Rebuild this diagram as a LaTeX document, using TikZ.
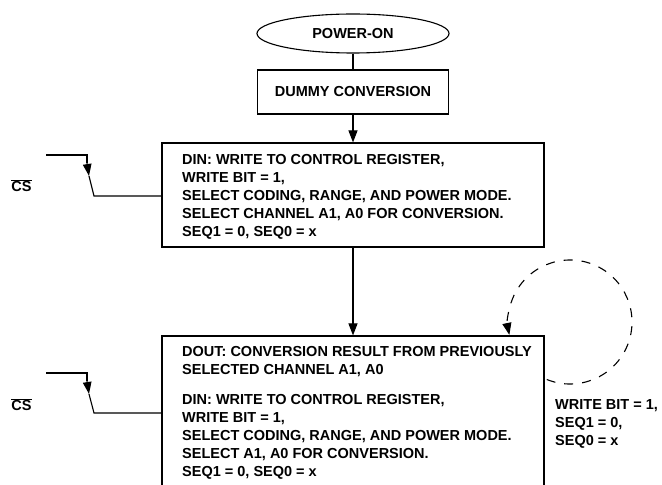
\documentclass[tikz,border=0pt]{standalone}
\usepackage{fontspec}
\setmainfont{Liberation Sans}
\usetikzlibrary{shapes.geometric,arrows.meta}
\begin{document}
\begin{tikzpicture}[x=1pt,y=1pt,
  every node/.style={font=\bfseries\fontsize{14.5}{18}\selectfont},
  ln/.style={line width=1.1pt},
  box/.style={draw, line width=1.1pt, inner sep=0pt},
  txt/.style={align=left, inner sep=0pt, anchor=north west},
  arr/.style={-{Triangle[length=12pt,width=9pt]}},
  csarr/.style={-{Triangle[length=12pt,width=8.5pt]}},
  dsh/.style={dash pattern=on 9pt off 9pt},
]
\useasboundingbox (0,0) rectangle (662,485);
\node[box, ellipse, minimum width=192, minimum height=39] (pwr) at (353,451.5) {POWER-ON};
\node[box, minimum width=191, minimum height=44] (dummy) at (353,393) {DUMMY CONVERSION};
\node[box, minimum width=382, minimum height=104] (b1) at (353,290) {};
\node[box, minimum width=382, minimum height=180] (b2) at (353,59) {};
\node[txt] (t1) at (182,331.2) {DIN: WRITE TO CONTROL REGISTER,\\ WRITE BIT = 1,\\ SELECT CODING, RANGE, AND POWER MODE.\\ SELECT CHANNEL A1, A0 FOR CONVERSION.\\ SEQ1 = 0, SEQ0 = x};
\node[txt] (t2) at (182,139.2) {DOUT: CONVERSION RESULT FROM PREVIOUSLY\\ SELECTED CHANNEL A1, A0\\[12pt] DIN: WRITE TO CONTROL REGISTER,\\ WRITE BIT = 1,\\ SELECT CODING, RANGE, AND POWER MODE.\\ SELECT A1, A0 FOR CONVERSION.\\ SEQ1 = 0, SEQ0 = x};
\node[txt] (lbl) at (555,85.2) {WRITE BIT = 1,\\ SEQ1 = 0,\\ SEQ0 = x};
\draw[ln] (pwr.south) -- (dummy.north);
\draw[ln, arr] (dummy.south) -- (b1.north);
\draw[ln, arr] (b1.south) -- (b2.north);
% CS 1
\node (cs1) at (21.5,299) {$\overline{\mbox{CS}}$};
\coordinate (h1a) at (46,330);
\coordinate (h1b) at (87,330);
\coordinate (h1c) at (87,322);
\coordinate (h1d) at (89,309);
\coordinate (h1e) at (94,289);
\draw[ln] (h1a) -- (h1b) -- (h1c);
\draw[ln, csarr] (h1c) -- (h1d);
\draw[ln] (h1d) -- (h1e) -- (h1e -| b1.west);
% CS 2
\node (cs2) at (21.5,80) {$\overline{\mbox{CS}}$};
\coordinate (h2a) at (46,112);
\coordinate (h2b) at (87,112);
\coordinate (h2c) at (87,104);
\coordinate (h2d) at (89,91);
\coordinate (h2e) at (94,72);
\draw[ln] (h2a) -- (h2b) -- (h2c);
\draw[ln, csarr] (h2c) -- (h2d);
\draw[ln] (h2d) -- (h2e) -- (h2e -| b2.west);
% loop
\coordinate (lc) at (570,163);
\draw[ln, dsh, arr] ([shift={(-112:62)}]lc) arc[start angle=-112, end angle=192, radius=62];
\end{tikzpicture}
\end{document}
